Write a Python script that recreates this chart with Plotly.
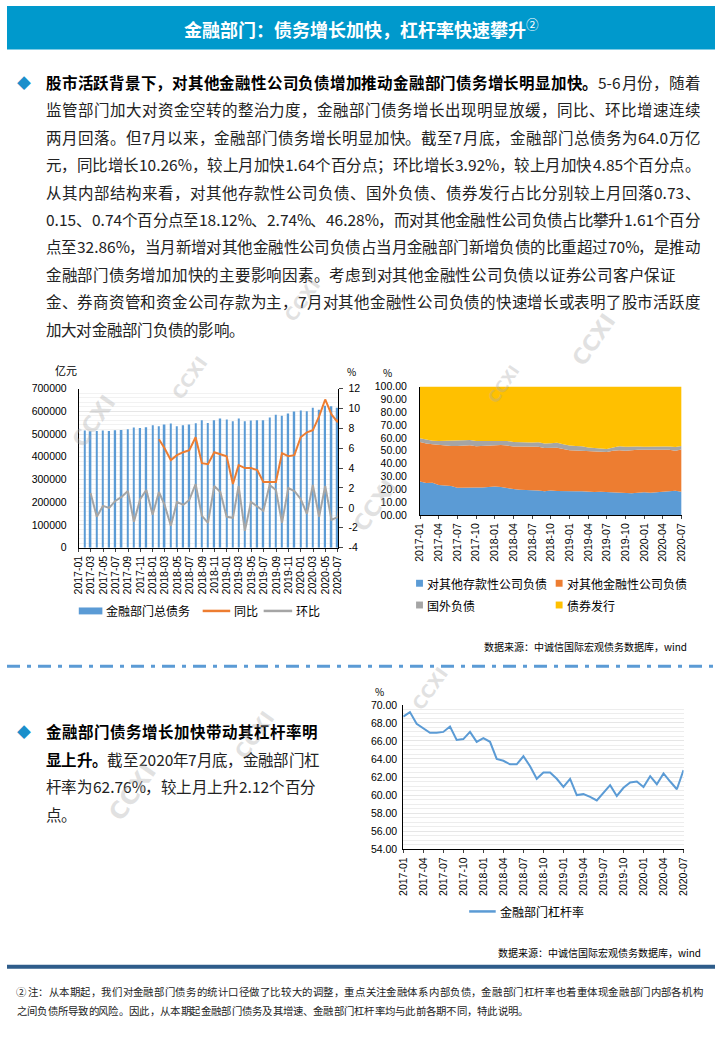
import plotly.graph_objects as go
import pandas as pd

W, H = 720, 1040
def px(x):
    return x / W
def py(y):
    return 1 - y / H

CJK = "Noto Sans CJK SC"
NUM = "Liberation Sans"

# ---------------- data ----------------
months = ["2017-01", "2017-02", "2017-03", "2017-04", "2017-05", "2017-06", "2017-07", "2017-08",
          "2017-09", "2017-10", "2017-11", "2017-12", "2018-01", "2018-02", "2018-03", "2018-04",
          "2018-05", "2018-06", "2018-07", "2018-08", "2018-09", "2018-10", "2018-11", "2018-12",
          "2019-01", "2019-02", "2019-03", "2019-04", "2019-05", "2019-06", "2019-07", "2019-08",
          "2019-09", "2019-10", "2019-11", "2019-12", "2020-01", "2020-02", "2020-03", "2020-04",
          "2020-05", "2020-06", "2020-07"]

# 金融部门总债务 (亿元)
debt_total = [515000, 512000, 513000, 515000, 513000, 516000, 518000, 521000, 529000, 526000, 530000, 538000,
              534000, 542000, 546000, 534000, 538000, 542000, 547000, 560000, 548000, 560000, 568000, 564000,
              556000, 568000, 556000, 559000, 560000, 560000, 573000, 585000, 580000, 590000, 599000, 603000,
              600000, 616000, 607000, 624000, 621600, 615800, 640000]

# 同比 (%), 2018-01 起
yoy_months = months[12:]
yoy = [6.9, 6.0, 4.8, 5.3, 5.6, 5.8, 7.1, 4.5, 4.4, 5.6, 5.4, 5.2,
       2.4, 4.3, 4.0, 4.0, 3.8, 2.6, 2.6, 2.6, 5.5, 5.2, 5.3, 7.1,
       7.6, 7.8, 9.2, 10.9, 9.4, 8.62, 10.26]

# 环比 (%), 2017-02 起
mom_months = months[1:]
mom = [1.5, -0.9, 0.2, 0.0, 0.7, 1.1, 1.7, -1.4, 0.9, 1.8, -0.7,
       1.6, 0.3, -1.8, 0.6, 0.3, 0.8, 2.4, -0.8, -1.5, 2.2, 1.6, -0.9,
       -1.0, 2.2, -2.3, 0.6, 0.1, -0.3, 2.3, 1.8, -1.5, 2.0, 1.7, 0.9,
       -0.6, 2.3, -0.9, 2.2, -1.2, -0.93, 3.92]

# 结构占比 (%)
share_deposit = [26.2, 24.9, 25.1, 23.3, 23.1, 22.6, 21.3, 21.5, 21.5, 21.5, 21.5, 21.8,
                 22.3, 21.8, 21.3, 20.3, 19.7, 19.5, 19.5, 19.2, 18.5, 19.2, 18.7, 18.5,
                 18.5, 18.5, 18.5, 18.2, 17.9, 18.2, 17.9, 17.7, 17.4, 16.9, 16.9, 17.4,
                 17.7, 17.4, 17.9, 18.5, 18.5, 18.85, 18.12]
share_otherfin = [30.7, 30.7, 30.0, 31.3, 31.3, 31.2, 32.5, 32.6, 32.9, 32.1, 32.3, 32.3,
                  31.8, 32.8, 32.8, 33.0, 33.6, 33.8, 33.6, 33.9, 33.6, 32.9, 33.6, 33.0,
                  32.0, 31.8, 31.5, 31.3, 31.6, 31.0, 31.1, 32.3, 33.1, 33.1, 33.6, 33.4,
                  33.1, 33.4, 32.9, 32.3, 32.3, 31.25, 32.86]
share_foreign = [2.8, 3.1, 2.8, 3.1, 3.3, 3.9, 4.1, 4.1, 4.1, 4.1, 3.9, 3.6,
                 3.8, 3.6, 3.6, 3.6, 3.4, 3.1, 3.3, 3.6, 3.5, 3.8, 3.9, 3.6,
                 3.6, 3.5, 3.6, 3.1, 2.8, 2.6, 2.5, 2.6, 3.1, 3.1, 2.8, 2.5,
                 2.3, 2.5, 2.3, 2.5, 2.5, 2.89, 2.74]
share_bond = [40.3, 41.3, 42.1, 42.3, 42.3, 42.3, 42.1, 41.8, 41.5, 42.3, 42.3, 42.3,
              42.1, 41.8, 42.3, 43.1, 43.3, 43.6, 43.6, 43.3, 44.4, 44.1, 43.8, 44.9,
              45.9, 46.2, 46.4, 47.4, 47.7, 48.2, 48.5, 47.4, 46.4, 46.9, 46.7, 46.7,
              46.9, 46.7, 46.9, 46.7, 46.7, 47.02, 46.28]

# 金融部门杠杆率 (%)
leverage = [68.7, 69.2, 67.9, 67.4, 66.9, 66.9, 67.0, 67.6, 66.1, 66.2, 67.0, 65.9,
            66.3, 65.9, 64.0, 63.8, 63.4, 63.4, 64.3, 63.2, 61.8, 62.5, 62.5, 61.8,
            60.9, 61.8, 60.0, 60.1, 59.8, 59.4, 60.3, 61.1, 59.9, 60.8, 61.4, 61.5,
            60.9, 62.1, 61.2, 62.4, 61.5, 60.64, 62.76]

rate_ticks = [-4, -2, 0, 2, 4, 6, 8, 10, 12]
rate_tick_text = ["-4", "-2", "0", "2", "4", "6", "8", "10", "12"]

C_BLUE, C_ORANGE, C_GRAY, C_YELLOW = "#5B9BD5", "#ED7D31", "#A5A5A5", "#FFC000"

def month_end(ms):
    return [pd.Period(m, "M").end_time.strftime("%Y-%m-%d") for m in ms]

# ---------------- figure ----------------
fig = go.Figure()

fig.add_trace(go.Bar(x=month_end(months), y=debt_total, name="金融部门总债务",
                     marker=dict(color=C_BLUE, line=dict(width=0)),
                     width=8 * 86400000, xaxis="x", yaxis="y"))
fig.add_trace(go.Scatter(x=month_end(yoy_months), y=yoy, name="同比", mode="lines",
                         line=dict(color=C_ORANGE, width=2), xaxis="x", yaxis="y2"))
fig.add_trace(go.Scatter(x=month_end(mom_months), y=mom, name="环比", mode="lines",
                         line=dict(color=C_GRAY, width=2), xaxis="x", yaxis="y2"))

for nm, vals, col in [("对其他存款性公司负债", share_deposit, C_BLUE),
                      ("对其他金融性公司负债", share_otherfin, C_ORANGE),
                      ("国外负债", share_foreign, C_GRAY),
                      ("债券发行", share_bond, C_YELLOW)]:
    fig.add_trace(go.Scatter(x=months, y=vals, name=nm, mode="lines", stackgroup="share",
                             line=dict(width=0, color=col), fillcolor=col,
                             xaxis="x2", yaxis="y3"))

fig.add_trace(go.Scatter(x=months, y=leverage, name="金融部门杠杆率", mode="lines",
                         line=dict(color=C_BLUE, width=2), xaxis="x3", yaxis="y4"))

tickfont = dict(family=NUM, size=10.5, color="#000")
axis_common = dict(showline=True, linecolor="#000", linewidth=1, tickfont=tickfont,
                   zeroline=False, fixedrange=True)

fig.update_layout(
    width=W, height=H, margin=dict(l=0, r=0, t=0, b=0),
    paper_bgcolor="white", plot_bgcolor="white", showlegend=False, barmode="overlay",
    font=dict(family=CJK, color="#000"),
    xaxis=dict(axis_common, type="date", domain=[px(73), px(337)], anchor="y",
               range=["2017-01-01", "2020-07-04"], tickformat="%Y-%m", dtick="M2", tick0="2017-01-01",
               tickangle=-90, ticks="outside", ticklen=3, showgrid=False),
    yaxis=dict(axis_common, domain=[py(548), py(387)], anchor="x", range=[0, 700000], dtick=100000,
               tickformat="d", showgrid=True, gridcolor="#E6E6E6", gridwidth=1, ticklabelstandoff=9,
               minor=dict(dtick=20000, showgrid=True, gridcolor="#F2F2F2")),
    yaxis2=dict(axis_common, overlaying="y", side="right", anchor="x", range=[-4, 12],
                tickmode="array", tickvals=rate_ticks, ticktext=rate_tick_text,
                ticks="outside", ticklen=4, showgrid=False, ticklabelstandoff=3),
    xaxis2=dict(axis_common, type="category", domain=[px(420), px(686)], anchor="y3",
                range=[0, 42], tickmode="linear", tick0=0, dtick=3, tickangle=-90,
                ticks="outside", ticklen=3, showgrid=False),
    yaxis3=dict(axis_common, domain=[py(515), py(385)], anchor="x2", range=[0, 100], dtick=10,
                tickformat="05.2f", showgrid=False, ticklabelstandoff=10),
    xaxis3=dict(axis_common, type="category", domain=[px(403), px(688)], anchor="y4",
                range=[0, 42], tickmode="linear", tick0=0, dtick=3, tickangle=-90,
                ticks="outside", ticklen=3, showgrid=False),
    yaxis4=dict(axis_common, domain=[py(853), py(707)], anchor="x3", range=[54, 70], dtick=2,
                tickformat=".2f", showgrid=True, gridcolor="#E6E6E6", ticklabelstandoff=3,
                minor=dict(dtick=0.5, showgrid=True, gridcolor="#EDEDED")),
)

shapes = [
    dict(type="rect", xref="paper", yref="paper", x0=0, x1=1, y0=py(44), y1=1,
         fillcolor="#0099CC", line=dict(width=0), layer="below"),
    dict(type="line", xref="paper", yref="paper", x0=0, x1=1, y0=py(668), y1=py(668),
         line=dict(color=C_BLUE, width=3, dash="13px,7px,4px,7px")),
    dict(type="line", xref="paper", yref="paper", x0=0, x1=1, y0=py(972), y1=py(972),
         line=dict(color="#2E5C8A", width=4)),
]

ann = []
def text(x, y, s, size=16, color="#222", anchor="left", family=CJK, **kw):
    ann.append(dict(x=px(x), y=py(y), xref="paper", yref="paper", text=s, showarrow=False,
                    xanchor=anchor, yanchor="middle", font=dict(family=family, size=size, color=color), **kw))

# ---- manual legends ----
def legend_rect(x0, x1, y, h, color, label):
    shapes.append(dict(type="rect", xref="paper", yref="paper", x0=px(x0), x1=px(x1),
                       y0=py(y + h / 2), y1=py(y - h / 2), fillcolor=color, line=dict(width=0)))
    text(x1 + 2, y, label, size=12, color="#000")

def legend_line(x0, x1, y, color, label):
    shapes.append(dict(type="line", xref="paper", yref="paper", x0=px(x0), x1=px(x1),
                       y0=py(y), y1=py(y), line=dict(color=color, width=2.5)))
    text(x1 + 2, y, label, size=12, color="#000")

legend_rect(73, 97, 612, 7, C_BLUE, "金融部门总债务")
legend_line(199, 227, 612, C_ORANGE, "同比")
legend_line(261, 290, 612, C_GRAY, "环比")
legend_rect(416, 423, 584, 7, C_BLUE, "对其他存款性公司负债")
legend_rect(558, 565, 584, 7, C_ORANGE, "对其他金融性公司负债")
legend_rect(416, 423, 606, 7, C_GRAY, "国外负债")
legend_rect(558, 565, 606, 7, C_YELLOW, "债券发行")
legend_line(470, 497, 916, C_BLUE, "金融部门杠杆率")

# ---- justified text helper ----
LATIN_W = {".": 0.28, "%": 0.88, "-": 0.36, ",": 0.28, " ": 0.25}
def tok_width(t, size):
    if ord(t[0]) < 128:
        return sum(LATIN_W.get(c, 0.57) for c in t) * size
    return size * len(t)

def justified(x0, x1, y, segments, size, color="#222", bold_color="#000", justify=True):
    toks = []
    for seg, bold in segments:
        i = 0
        while i < len(seg):
            if ord(seg[i]) < 128:
                j = i
                while j < len(seg) and ord(seg[j]) < 128:
                    j += 1
                toks.append((seg[i:j], bold))
                i = j
            else:
                toks.append((seg[i], bold))
                i += 1
    widths = [tok_width(t, size) for t, _ in toks]
    gap = (x1 - x0 - sum(widths)) / (len(toks) - 1) if (justify and len(toks) > 1) else 0
    x = x0
    for (t, bold), w in zip(toks, widths):
        s = "<b>%s</b>" % t if bold else t
        text(x + w / 2, y, s, size=size, color=bold_color if bold else color, anchor="center")
        x += w + gap

# header title
text(360, 22, "<b>金融部门：债务增长加快，杠杆率快速攀升</b><sup>②</sup>", size=18, color="white", anchor="center")

# paragraph 1
body_lines = [
    [("股市活跃背景下，对其他金融性公司负债增加推动金融部门债务增长明显加快。", True), ("5-6月份，随着", False)],
    [("监管部门加大对资金空转的整治力度，金融部门债务增长出现明显放缓，同比、环比增速连续", False)],
    [("两月回落。但7月以来，金融部门债务增长明显加快。截至7月底，金融部门总债务为64.0万亿", False)],
    [("元，同比增长10.26%，较上月加快1.64个百分点；环比增长3.92%，较上月加快4.85个百分点。", False)],
    [("从其内部结构来看，对其他存款性公司负债、国外负债、债券发行占比分别较上月回落0.73、", False)],
    [("0.15、0.74个百分点至18.12%、2.74%、46.28%，而对其他金融性公司负债占比攀升1.61个百分", False)],
    [("点至32.86%，当月新增对其他金融性公司负债占当月金融部门新增负债的比重超过70%，是推动", False)],
    [("金融部门债务增加加快的主要影响因素。考虑到对其他金融性公司负债以证券公司客户保证", False)],
    [("金、券商资管和资金公司存款为主，7月对其他金融性公司负债的快速增长或表明了股市活跃度", False)],
    [("加大对金融部门负债的影响。", False)],
]
body_right = [705, 705, 705, 705, 705, 705, 705, 680, 705, None]
for i, segs in enumerate(body_lines):
    r = body_right[i]
    justified(40, r if r else 720, 77 + i * 27.7, segs, 15.5, justify=r is not None)
text(17, 77, "◆", size=14, color="#1A8FCB", anchor="center")

# paragraph 2
lev_lines = [
    [("金融部门债务增长加快带动其杠杆率明", True)],
    [("显上升。", True), ("截至2020年7月底，金融部门杠", False)],
    [("杆率为62.76%，较上月上升2.12个百分", False)],
    [("点。", False)],
]
lev_right = [316, 318, 314, None]
for i, segs in enumerate(lev_lines):
    r = lev_right[i]
    justified(40, r if r else 720, 733 + i * 28.3, segs, 15.5, justify=r is not None)
text(17, 733, "◆", size=14, color="#1A8FCB", anchor="center")

# axis unit labels
text(47, 368, "亿元", size=11, color="#000", anchor="left")
text(344, 370, "%", size=10, color="#000", anchor="left")
text(380, 371, "%", size=10, color="#000", anchor="left")
text(372, 694, "%", size=10, color="#000", anchor="left")

# sources
text(694, 648, "数据来源：中诚信国际宏观债务数据库，wind", size=10, color="#000", anchor="right")
text(708, 958, "数据来源：中诚信国际宏观债务数据库，wind", size=10, color="#000", anchor="right")

# footnote
justified(10, 708, 997, [("②注：从本期起，我们对金融部门债务的统计口径做了比较大的调整，重点关注金融体系内部负债，金融部门杠杆率也着重体现金融部门内部各机构", False)],
          10.4, color="#222")
justified(10, 720, 1016, [("之间负债所导致的风险。因此，从本期起金融部门债务及其增速、金融部门杠杆率均与此前各期不同，特此说明。", False)],
          10.4, color="#222", justify=False)

# watermarks
for (wx, wy, ws) in [(300, 298, 18), (596, 338, 22), (186, 376, 18), (88, 420, 22),
                     (505, 383, 16), (374, 505, 22), (430, 690, 18), (128, 795, 24), (252, 738, 20)]:
    text(wx, wy, "<b>CCXI</b>", size=ws, color="rgba(170,170,170,0.35)", anchor="center",
         family="DejaVu Sans", textangle=-55)

fig.update_layout(annotations=ann, shapes=shapes)
fig.write_html("out.html")
